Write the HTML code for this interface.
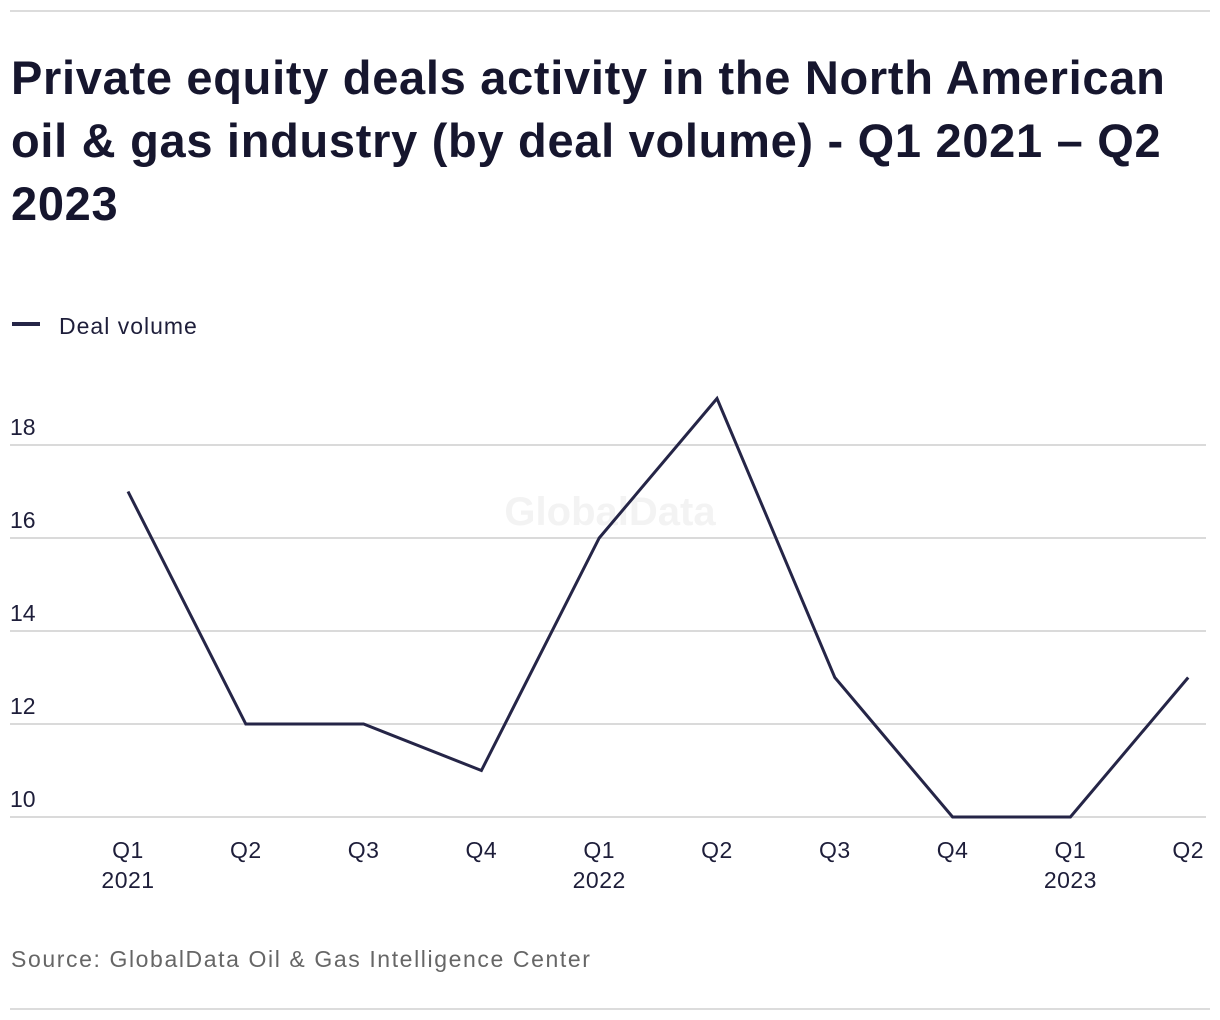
<!DOCTYPE html>
<html><head><meta charset="utf-8"><style>
body{margin:0;width:1220px;height:1020px;background:#fff;font-family:"Liberation Sans",sans-serif;color:#1e1e3a;position:relative;overflow:hidden}
.rule{position:absolute;left:10px;width:1200px;height:2px;background:#dcdcdc}
h1{position:absolute;left:11px;top:46px;margin:0;width:1210px;font-size:47px;line-height:63px;font-weight:bold;color:#16162e;letter-spacing:0.7px;white-space:nowrap}
.src{position:absolute;left:11px;top:946px;font-size:23px;color:#666;letter-spacing:1.6px}
</style></head><body>
<div class="rule" style="top:10px"></div>
<h1>Private equity deals activity in the North American<br>oil &amp; gas industry (by deal volume) - Q1 2021 – Q2<br>2023</h1>
<svg id="chart" width="1220" height="1020" style="position:absolute;left:0;top:0">
<g><line x1="12" y1="324" x2="40" y2="324" stroke="#252547" stroke-width="4"/><text x="59" y="334" font-size="23" letter-spacing="1" fill="#1e1e3a">Deal volume</text></g>
<text x="610" y="525" font-size="40" font-weight="bold" fill="#f3f3f3" text-anchor="middle">GlobalData</text>
</svg>
<div class="src">Source: GlobalData Oil &amp; Gas Intelligence Center</div>
<div class="rule" style="top:1008px"></div>
<script>
const categories=["Q1","Q2","Q3","Q4","Q1","Q2","Q3","Q4","Q1","Q2"];
const years=["2021","","","","2022","","","","2023",""];
const values=[17,12,12,11,16,19,13,10,10,13];
const yTicks=[10,12,14,16,18];
const svg=document.getElementById('chart');
const NS='http://www.w3.org/2000/svg';
function y(v){return 817-(v-10)*46.5;}
function x(i){return 128+i*117.8;}
function mk(t,a){const e=document.createElementNS(NS,t);for(const k in a)e.setAttribute(k,a[k]);return e;}
yTicks.forEach(v=>{
  const l=mk('line',{x1:10,x2:1206,y1:y(v),y2:y(v),stroke:'#dadada','stroke-width':2});
  
  
  svg.appendChild(l);
  const t=mk('text',{x:10,y:y(v)-10,'font-size':23,fill:'#1e1e3a'});
  t.textContent=v;
  
  
  svg.appendChild(t);
});
categories.forEach((c,i)=>{
  const t=mk('text',{x:x(i),y:858,'font-size':23,'letter-spacing':0.5,fill:'#1e1e3a','text-anchor':'middle'});
  t.textContent=c;
  
  
  svg.appendChild(t);
  if(years[i]){
    const t2=mk('text',{x:x(i),y:888,'font-size':23,'letter-spacing':0.5,fill:'#1e1e3a','text-anchor':'middle'});
    t2.textContent=years[i];
    
    
    svg.appendChild(t2);
  }
});
const p=mk('polyline',{points:values.map((v,i)=>x(i)+','+y(v)).join(' '),fill:'none',stroke:'#252547','stroke-width':3,'stroke-linejoin':'miter'});


svg.appendChild(p);
</script>
</body></html>
